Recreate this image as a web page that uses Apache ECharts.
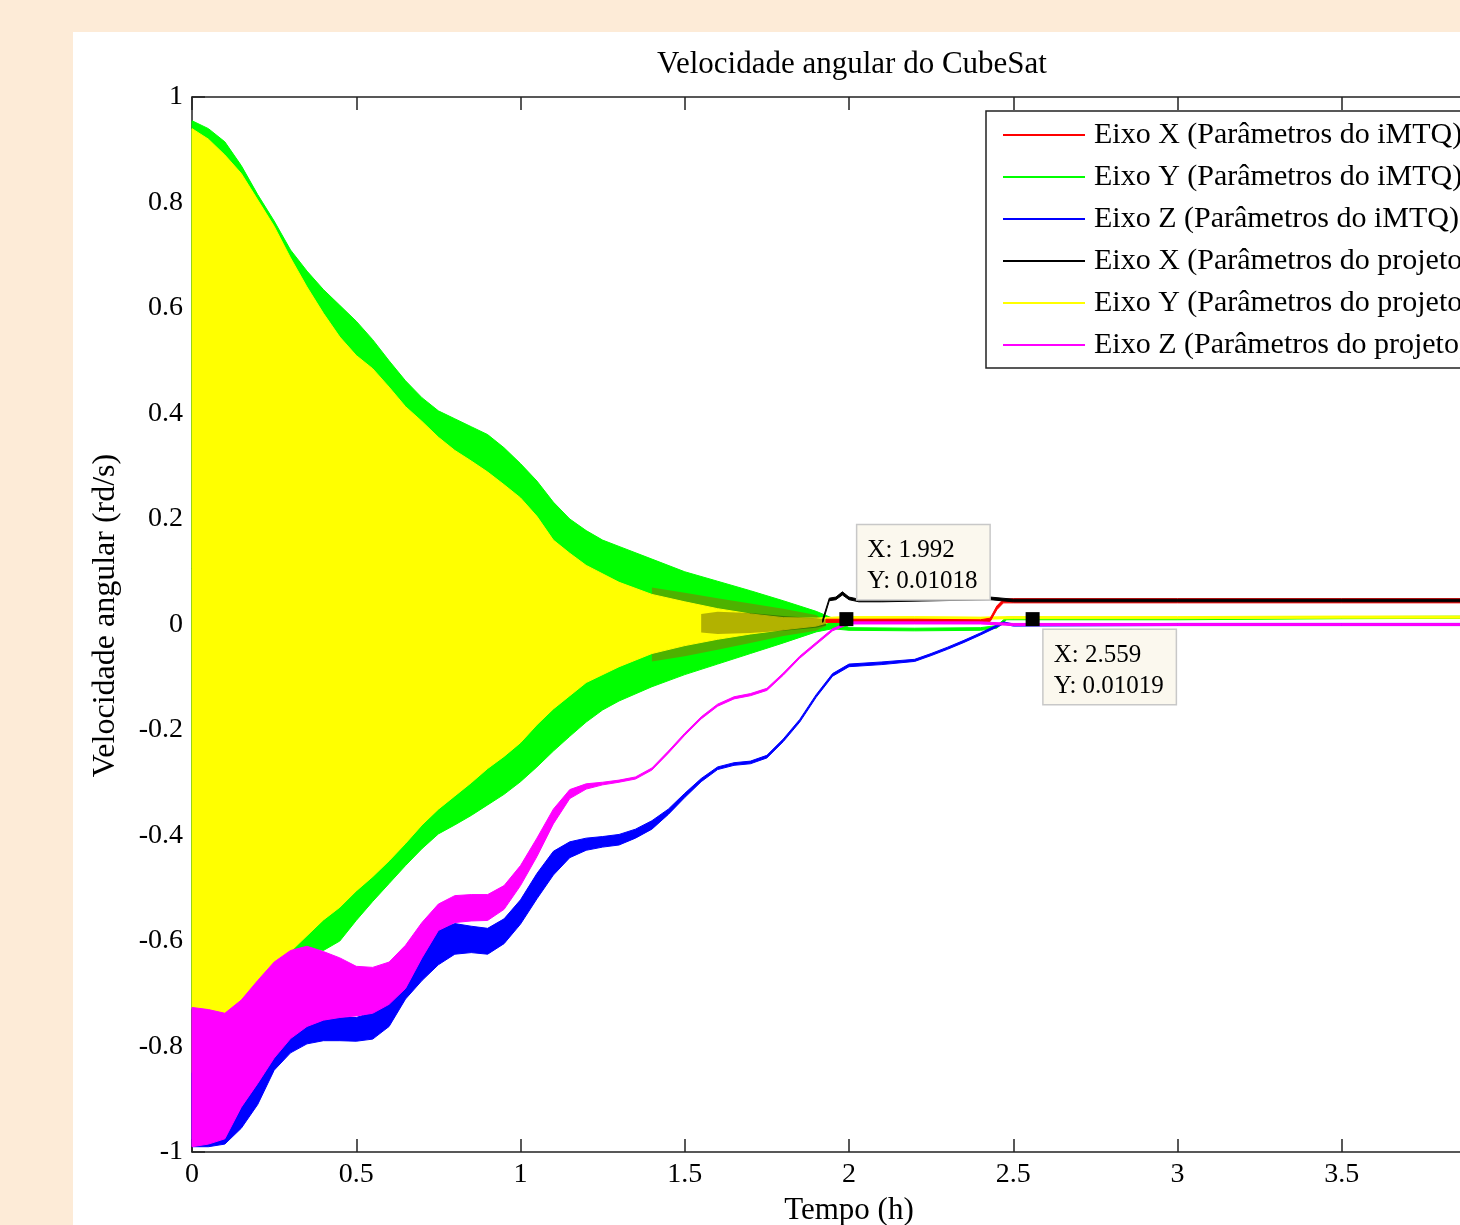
<!DOCTYPE html>
<html>
<head>
<meta charset="utf-8">
<title>Velocidade angular do CubeSat</title>
<script src="https://cdn.jsdelivr.net/npm/echarts@6/dist/echarts.min.js"></script>
<style>
  html, body { margin: 0; padding: 0; background: #fdebd7; }
  #main { width: 1460px; height: 1225px; }
</style>
</head>
<body>
<div id="main"></div>
<script>
// envelopes (upper / lower), time in hours
var tGreen = [0, 0.05, 0.1, 0.15, 0.2, 0.25, 0.3, 0.35, 0.4, 0.45, 0.5, 0.55, 0.6, 0.65, 0.7, 0.75, 0.8, 0.85, 0.9, 0.95, 1.0, 1.05, 1.1, 1.15, 1.2, 1.25, 1.3, 1.4, 1.5, 1.6, 1.7, 1.8, 1.9, 1.95, 2.0, 2.2, 2.4, 2.45, 2.48, 2.55, 3.0, 3.5, 4.0];
var greenHi = [0.955, 0.94, 0.915, 0.87, 0.815, 0.765, 0.71, 0.67, 0.635, 0.605, 0.575, 0.54, 0.5, 0.462, 0.43, 0.405, 0.39, 0.375, 0.36, 0.335, 0.305, 0.272, 0.232, 0.2, 0.178, 0.16, 0.148, 0.124, 0.1, 0.082, 0.064, 0.045, 0.025, 0.012, -0.006, -0.007, -0.006, -0.002, 0.014, 0.014, 0.013, 0.015, 0.016];
var greenLo = [-0.73, -0.74, -0.74, -0.712, -0.68, -0.645, -0.62, -0.612, -0.618, -0.6, -0.561, -0.525, -0.491, -0.457, -0.425, -0.397, -0.38, -0.362, -0.342, -0.322, -0.298, -0.27, -0.24, -0.212, -0.185, -0.162, -0.145, -0.118, -0.095, -0.075, -0.055, -0.035, -0.014, -0.008, -0.011, -0.012, -0.011, -0.007, 0.009, 0.009, 0.009, 0.011, 0.012];

var tYellow = [0, 0.05, 0.1, 0.15, 0.2, 0.25, 0.3, 0.35, 0.4, 0.45, 0.5, 0.55, 0.6, 0.65, 0.7, 0.75, 0.8, 0.85, 0.9, 0.95, 1.0, 1.05, 1.1, 1.15, 1.2, 1.3, 1.4, 1.5, 1.6, 1.7, 1.8, 1.9, 1.95, 2.0, 2.2, 2.4, 2.5, 3.0, 3.5, 4.0];
var yellowHi = [0.94, 0.92, 0.89, 0.855, 0.805, 0.755, 0.695, 0.64, 0.59, 0.545, 0.51, 0.485, 0.45, 0.413, 0.385, 0.355, 0.33, 0.31, 0.289, 0.265, 0.24, 0.205, 0.16, 0.135, 0.112, 0.08, 0.057, 0.043, 0.03, 0.02, 0.013, 0.012, 0.014, 0.015, 0.015, 0.014, 0.015, 0.015, 0.016, 0.016];
var yellowLo = [-0.728, -0.732, -0.739, -0.714, -0.678, -0.642, -0.62, -0.59, -0.56, -0.536, -0.505, -0.478, -0.448, -0.415, -0.38, -0.35, -0.325, -0.3, -0.273, -0.25, -0.224, -0.19, -0.16, -0.135, -0.11, -0.08, -0.055, -0.04, -0.028, -0.018, -0.01, -0.003, 0.006, 0.009, 0.01, 0.01, 0.011, 0.011, 0.012, 0.012];

var tMagenta = [0, 0.05, 0.1, 0.15, 0.2, 0.25, 0.3, 0.35, 0.4, 0.45, 0.5, 0.55, 0.6, 0.65, 0.7, 0.75, 0.8, 0.85, 0.9, 0.95, 1.0, 1.05, 1.1, 1.15, 1.2, 1.25, 1.3, 1.35, 1.4, 1.45, 1.5, 1.55, 1.6, 1.65, 1.7, 1.75, 1.8, 1.85, 1.9, 1.95, 2.0, 2.2, 2.4, 2.5, 3.0, 3.5, 4.0];
var magentaHi = [-0.726, -0.73, -0.737, -0.712, -0.675, -0.64, -0.618, -0.61, -0.62, -0.632, -0.648, -0.65, -0.64, -0.608, -0.565, -0.53, -0.514, -0.512, -0.512, -0.495, -0.457, -0.405, -0.35, -0.313, -0.302, -0.299, -0.295, -0.289, -0.272, -0.24, -0.206, -0.175, -0.151, -0.137, -0.131, -0.121, -0.092, -0.06, -0.034, -0.008, 0.005, 0.005, 0.005, 0.002, 0.002, 0.002, 0.002];
var magentaLo = [-0.99, -0.985, -0.975, -0.915, -0.87, -0.822, -0.785, -0.762, -0.75, -0.745, -0.742, -0.737, -0.72, -0.69, -0.632, -0.58, -0.565, -0.562, -0.561, -0.54, -0.495, -0.44, -0.378, -0.33, -0.312, -0.304, -0.299, -0.293, -0.276, -0.244, -0.21, -0.179, -0.155, -0.141, -0.135, -0.125, -0.096, -0.064, -0.038, -0.012, 0.001, 0.001, 0.001, -0.002, -0.002, -0.002, -0.002];

var tBlue = [0, 0.05, 0.1, 0.15, 0.2, 0.25, 0.3, 0.35, 0.4, 0.45, 0.5, 0.55, 0.6, 0.65, 0.7, 0.75, 0.8, 0.85, 0.9, 0.95, 1.0, 1.05, 1.1, 1.15, 1.2, 1.25, 1.3, 1.35, 1.4, 1.45, 1.5, 1.55, 1.6, 1.65, 1.7, 1.75, 1.8, 1.85, 1.9, 1.95, 2.0, 2.1, 2.2, 2.25, 2.3, 2.35, 2.4, 2.45, 2.47, 2.5, 3.0, 3.5, 4.0];
var blueHi = [-0.85, -0.9, -0.92, -0.88, -0.84, -0.8, -0.775, -0.758, -0.748, -0.745, -0.745, -0.735, -0.712, -0.675, -0.62, -0.578, -0.567, -0.572, -0.576, -0.558, -0.522, -0.472, -0.43, -0.412, -0.405, -0.402, -0.398, -0.388, -0.372, -0.35, -0.32, -0.292, -0.27, -0.262, -0.259, -0.248, -0.217, -0.18, -0.133, -0.093, -0.075, -0.071, -0.066, -0.055, -0.043, -0.03, -0.016, -0.001, 0.005, 0.001, 0.002, 0.002, 0.002];
var blueLo = [-0.99, -0.99, -0.985, -0.955, -0.91, -0.845, -0.812, -0.795, -0.789, -0.789, -0.79, -0.786, -0.762, -0.71, -0.675, -0.645, -0.625, -0.622, -0.625, -0.605, -0.568, -0.52, -0.475, -0.442, -0.428, -0.422, -0.418, -0.405, -0.388, -0.36, -0.328, -0.298, -0.275, -0.267, -0.264, -0.253, -0.222, -0.185, -0.138, -0.098, -0.08, -0.076, -0.07, -0.059, -0.047, -0.034, -0.02, -0.005, 0.001, -0.003, -0.002, -0.002, -0.002];

// red and black: the noisy cluster near 1.4-1.93 h, then the settled line
var tRedNoise = [1.4, 1.5, 1.6, 1.7, 1.8, 1.9, 1.93];
var redNoiseHi = [0.07, 0.06, 0.05, 0.04, 0.03, 0.018, 0.005];
var redNoiseLo = [-0.07, -0.06, -0.048, -0.035, -0.022, -0.012, -0.003];
var tRed = [1.93, 2.0, 2.2, 2.4, 2.43, 2.45, 2.47, 2.5, 3.0, 3.5, 4.0];
var redHi = [0.01, 0.01, 0.01, 0.009, 0.012, 0.035, 0.048, 0.049, 0.049, 0.049, 0.049];
var redLo = [0.004, 0.004, 0.004, 0.004, 0.006, 0.028, 0.041, 0.041, 0.041, 0.041, 0.041];

var tBlackNoise = [1.55, 1.6, 1.7, 1.8, 1.9, 1.93];
var blackNoiseHi = [0.02, 0.024, 0.022, 0.016, 0.012, 0.01];
var blackNoiseLo = [-0.015, -0.018, -0.016, -0.012, -0.006, -0.002];
var tBlack = [1.92, 1.94, 1.96, 1.98, 2.0, 2.03, 2.1, 2.43, 2.5, 3.0, 3.5, 4.0];
var blackHi = [0.01, 0.05, 0.052, 0.062, 0.052, 0.048, 0.048, 0.052, 0.048, 0.048, 0.048, 0.048];
var blackLo = [0.004, 0.045, 0.047, 0.056, 0.047, 0.043, 0.043, 0.047, 0.043, 0.043, 0.043, 0.043];

// data tips
var tipX = [1.992, 2.559];
var tipY = [0.01018, 0.01019];

var names = [
  'Eixo X (Parâmetros do iMTQ)',
  'Eixo Y (Parâmetros do iMTQ)',
  'Eixo Z (Parâmetros do iMTQ)',
  'Eixo X (Parâmetros do projeto)',
  'Eixo Y (Parâmetros do projeto)',
  'Eixo Z (Parâmetros do projeto)'
];

var FONT = 'Liberation Serif';

// band between upper and lower envelope, drawn as one polygon through the axes
function band(name, color, t, hi, lo, alpha, stroke) {
  return {
    name: name,
    type: 'custom',
    silent: true,
    itemStyle: { color: color },
    encode: { x: 0, y: [1, 2] },
    data: t.map(function (x, i) { return [x, hi[i], lo[i]]; }),
    renderItem: function (params, api) {
      if (params.dataIndex !== 0) return null;
      var pts = [];
      for (var i = 0; i < t.length; i++) pts.push(api.coord([t[i], hi[i]]));
      for (var j = t.length - 1; j >= 0; j--) pts.push(api.coord([t[j], lo[j]]));
      return {
        type: 'polygon',
        shape: { points: pts },
        style: {
          fill: color,
          stroke: stroke ? color : null,
          lineWidth: 1,
          opacity: alpha
        }
      };
    }
  };
}

var myChart = echarts.init(document.getElementById('main'));

var axisStyle = { color: '#222', width: 1.5 };

var option = {
  backgroundColor: '#fdebd7',
  animation: false,
  graphic: {
    elements: [{
      type: 'rect',
      z: -100,
      silent: true,
      shape: { x: 73, y: 32, width: 1400, height: 1200 },
      style: { fill: '#ffffff' }
    }]
  },
  title: {
    text: 'Velocidade angular do CubeSat',
    left: 847,
    top: 44,
    textAlign: 'center',
    textStyle: { fontFamily: FONT, fontSize: 31, fontWeight: 'normal', color: '#000' }
  },
  legend: {
    data: names,
    orient: 'vertical',
    left: 986,
    top: 111,
    padding: [9, 30, 8, 17],
    itemGap: 12,
    itemWidth: 82,
    itemHeight: 2,
    icon: 'rect',
    backgroundColor: '#fff',
    borderColor: '#222',
    borderWidth: 1.5,
    borderRadius: 0,
    selectedMode: false,
    textStyle: { fontFamily: FONT, fontSize: 30, color: '#000', lineHeight: 30, padding: [0, 0, 0, 4] }
  },
  grid: { left: 192, top: 97, width: 1314, height: 1055, show: false, outerBoundsMode: 'none', containLabel: false },
  xAxis: [{
    type: 'value',
    min: 0,
    max: 4,
    interval: 0.5,
    name: 'Tempo (h)',
    nameLocation: 'middle',
    nameGap: 43,
    nameTextStyle: { fontFamily: FONT, fontSize: 31, color: '#000' },
    axisLine: { show: true, onZero: false, lineStyle: axisStyle },
    axisTick: { show: true, inside: true, length: 13, lineStyle: axisStyle },
    axisLabel: { margin: 9, fontFamily: FONT, fontSize: 28, color: '#000' },
    splitLine: { show: false }
  }, {
    type: 'value',
    position: 'top',
    min: 0,
    max: 4,
    interval: 0.5,
    axisLine: { show: true, onZero: false, lineStyle: axisStyle },
    axisTick: { show: true, inside: true, length: 13, lineStyle: axisStyle },
    axisLabel: { show: false },
    splitLine: { show: false }
  }],
  yAxis: {
    type: 'value',
    min: -1,
    max: 1,
    interval: 0.2,
    name: 'Velocidade angular (rd/s)',
    nameLocation: 'middle',
    nameGap: 70,
    nameTextStyle: { fontFamily: FONT, fontSize: 32, color: '#000', padding: [0, 0, 0, 18] },
    axisLine: { show: true, onZero: false, lineStyle: axisStyle },
    axisTick: { show: true, inside: true, length: 13, lineStyle: axisStyle },
    axisLabel: {
      margin: 9, fontFamily: FONT, fontSize: 28, color: '#000',
      formatter: function (v) { return String(Math.round(v * 10) / 10); }
    },
    splitLine: { show: false }
  },
  series: [
    band(names[1], '#00ff00', tGreen, greenHi, greenLo, 1, true),
    band(names[0], '#ff0000', tRedNoise, redNoiseHi, redNoiseLo, 0.3, false),
    band(names[2], '#0000ff', tBlue, blueHi, blueLo, 1, true),
    band(names[4], '#ffff00', tYellow, yellowHi, yellowLo, 1, true),
    band(names[3], '#000000', tBlackNoise, blackNoiseHi, blackNoiseLo, 0.3, false),
    band(names[0], '#ff0000', tRed, redHi, redLo, 1, true),
    band(names[3], '#000000', tBlack, blackHi, blackLo, 1, true),
    band(names[5], '#ff00ff', tMagenta, magentaHi, magentaLo, 1, true),
    {
      type: 'scatter',
      silent: true,
      symbol: 'rect',
      symbolSize: 14,
      itemStyle: { color: '#000', opacity: 1 },
      z: 10,
      data: tipX.map(function (x, i) {
        return {
          value: [x, tipY[i]],
          label: { position: i === 0 ? [18, -87] : [18, 18] }
        };
      }),
      label: {
        show: true,
        align: 'left',
        verticalAlign: 'top',
        formatter: function (p) { return 'X: ' + p.value[0] + '\nY: ' + p.value[1]; },
        fontFamily: FONT,
        fontSize: 25,
        lineHeight: 31,
        color: '#000',
        width: 112,
        height: 58,
        padding: [10, 10, 6, 10],
        backgroundColor: '#fbf8ee',
        borderColor: '#c8c8c8',
        borderWidth: 1.5
      }
    }
  ]
};

myChart.setOption(option);
</script>
</body>
</html>
